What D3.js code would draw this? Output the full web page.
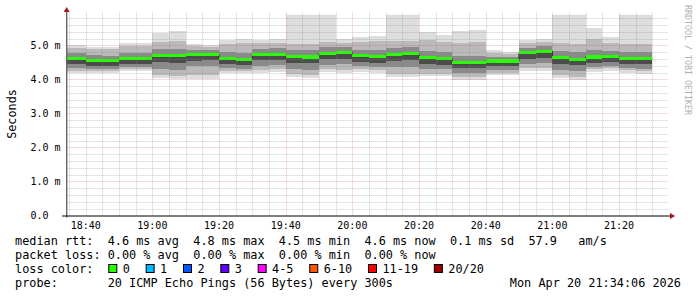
<!DOCTYPE html>
<html><head><meta charset="utf-8">
<script src="https://cdn.jsdelivr.net/npm/d3@7/dist/d3.min.js"></script>
<style>body{margin:0;background:#fff}svg{display:block}text{font-family:"DejaVu Sans Mono",monospace}</style>
</head><body><svg id="c" width="697" height="297"></svg>
<script>
// ---- data ----
const stepStarts = ["18:35","18:40","18:45","18:50","18:55","19:00","19:05","19:10","19:15","19:20","19:25","19:30","19:35","19:40","19:45","19:50","19:55","20:00","20:05","20:10","20:15","20:20","20:25","20:30","20:35","20:40","20:45","20:50","20:55","21:00","21:05","21:10","21:15","21:20","21:25"];
const median = [4.61,4.56,4.55,4.61,4.62,4.69,4.69,4.73,4.73,4.61,4.59,4.73,4.74,4.67,4.66,4.77,4.78,4.69,4.67,4.73,4.75,4.64,4.61,4.50,4.49,4.54,4.54,4.78,4.83,4.64,4.59,4.66,4.68,4.62,4.61];
const pingMax = [5.02,4.96,4.96,5.06,5.06,5.35,5.42,5.04,5.00,5.15,5.20,5.17,5.19,6.20,6.20,6.20,5.20,5.24,5.27,6.20,6.20,5.39,5.29,5.41,5.44,4.85,4.79,5.15,5.20,6.20,6.20,5.51,5.24,6.20,6.20];
const pingMin = [4.18,4.19,4.19,4.24,4.24,4.03,4.00,4.00,4.01,4.18,4.18,4.20,4.22,4.07,4.03,4.21,4.20,4.21,4.20,4.07,4.07,4.09,4.09,3.99,3.99,4.13,4.13,4.24,4.24,4.04,3.99,4.22,4.24,4.19,4.17];
const hi2 = [4.92,4.88,4.88,4.97,4.97,5.10,5.12,4.97,4.94,5.03,5.06,5.06,5.07,5.05,5.04,5.10,5.08,5.10,5.12,5.12,5.12,5.15,5.10,5.08,5.10,4.78,4.74,5.06,5.10,5.06,5.04,5.20,5.08,5.04,5.03];
const lo2 = [4.24,4.25,4.25,4.30,4.30,4.12,4.09,4.12,4.13,4.25,4.25,4.28,4.30,4.15,4.12,4.30,4.28,4.29,4.28,4.16,4.16,4.17,4.17,4.08,4.08,4.20,4.20,4.32,4.32,4.13,4.08,4.30,4.32,4.27,4.25];
const hi3 = [4.76,4.71,4.70,4.77,4.78,4.88,4.89,4.87,4.86,4.79,4.78,4.90,4.91,4.86,4.85,4.95,4.94,4.86,4.85,4.92,4.94,4.83,4.79,4.70,4.70,4.66,4.65,4.93,4.98,4.84,4.79,4.86,4.84,4.80,4.79];
const lo3 = [4.32,4.29,4.29,4.35,4.35,4.30,4.28,4.38,4.39,4.33,4.31,4.40,4.41,4.30,4.28,4.43,4.44,4.38,4.36,4.35,4.37,4.30,4.29,4.20,4.19,4.28,4.28,4.45,4.48,4.28,4.24,4.36,4.38,4.33,4.31];
const hi4 = [4.65,4.60,4.59,4.65,4.66,4.73,4.73,4.77,4.77,4.65,4.63,4.77,4.78,4.71,4.70,4.81,4.82,4.73,4.71,4.77,4.79,4.68,4.65,4.54,4.53,4.58,4.58,4.82,4.87,4.68,4.63,4.70,4.72,4.66,4.65];
const lo4 = [4.45,4.40,4.39,4.45,4.46,4.50,4.49,4.55,4.56,4.44,4.42,4.56,4.57,4.48,4.47,4.60,4.61,4.51,4.49,4.55,4.57,4.46,4.43,4.33,4.32,4.39,4.39,4.60,4.64,4.45,4.41,4.48,4.50,4.45,4.44];
const yTickLabels = ["0.0","1.0 m","2.0 m","3.0 m","4.0 m","5.0 m"];
const lossLabels = ["0","1","2","3","4-5","6-10","11-19","20/20"];
const lossColors = ["#26ff00","#00b8ff","#0059ff","#5e00ff","#ff00ff","#ff5500","#ff0000","#a00000"];
const legendLines = [
  "median rtt:  4.6 ms avg  4.8 ms max  4.5 ms min  4.6 ms now  0.1 ms sd  57.9   am/s",
  "packet loss: 0.00 % avg  0.00 % max  0.00 % min  0.00 % now",
  "loss color:",
  "probe:       20 ICMP Echo Pings (56 Bytes) every 300s"
];
const stampText = "Mon Apr 20 21:34:06 2026";
const yTitle = "Seconds";
const watermark = "RRDTOOL / TOBI OETIKER";

// ---- layout ----
const L = 66.7, R = 666.7, T = 14.7, B = 215.5;
const svg = d3.select("#c");
svg.append("rect").attr("width",697).attr("height",297).attr("fill","#fff");
const day = (h,m,s) => new Date(2026,3,20,h,m,s||0);
const parseHM = s => { const [h,m] = s.split(":").map(Number); return day(h,m); };
const tStart = day(18,34,18), tEnd = day(21,34,18);
const x = d3.scaleTime().domain([tStart,tEnd]).range([L,R]);
const y = d3.scaleLinear().domain([0,5.9]).range([B,T]);
const starts = stepStarts.map(parseHM);
const ends = starts.map(d => d3.timeMinute.offset(d,5));

svg.append("clipPath").attr("id","pc").append("rect")
  .attr("x",L).attr("y",T).attr("width",R-L).attr("height",B-T);
const plot = svg.append("g").attr("clip-path","url(#pc)");

const layers = [
  [pingMin,pingMax,"#dddddd"],
  [lo2,hi2,"#bababa"],
  [lo3,hi3,"#8a8a8a"],
  [lo4,hi4,"#4c4c4c"]
];
layers.forEach(([lo,hi,col]) => {
  plot.append("g").selectAll("rect").data(median).join("rect")
    .attr("shape-rendering","crispEdges")
    .attr("x",(d,i)=> i===0 ? L : x(starts[i]))
    .attr("width",(d,i)=> x(ends[i]) - (i===0 ? L : x(starts[i])))
    .attr("y",(d,i)=> y(hi[i]))
    .attr("height",(d,i)=> y(lo[i]) - y(hi[i]))
    .attr("fill",col);
});

// dark median step line
const pts = median.map((v,i)=>[i===0?L:x(starts[i]), y(v)]);
pts.push([x(ends[ends.length-1]), y(median[median.length-1])]);
plot.append("path").attr("d", d3.line().curve(d3.curveStepAfter)(pts))
  .attr("fill","none").attr("stroke","#202020").attr("stroke-width",1);

// green median bands (loss 0)
plot.append("g").selectAll("rect").data(median).join("rect")
  .attr("shape-rendering","crispEdges")
  .attr("x",(d,i)=> i===0 ? L : x(starts[i]))
  .attr("width",(d,i)=> x(ends[i]) - (i===0 ? L : x(starts[i])))
  .attr("y",d=> y(d)-1.6).attr("height",3.2)
  .attr("fill",lossColors[0]);

// grid
const grid = svg.append("g").attr("fill","none").attr("stroke-dasharray","1,1");
const minorY = y.ticks(30).filter(v => Math.abs(v - Math.round(v)) > 1e-6);
const majorY = y.ticks(6);
grid.selectAll(".hy").data(minorY).join("line")
  .attr("x1",L).attr("x2",668).attr("y1",d=>Math.round(y(d))+0.5).attr("y2",d=>Math.round(y(d))+0.5)
  .attr("stroke","rgba(140,140,140,0.45)");
const minorX = x.ticks(d3.timeMinute.every(5)).filter(d => d.getMinutes()%20 !== 0);
const majorX = x.ticks(d3.timeMinute.every(20));
grid.selectAll(".vx").data(minorX).join("line")
  .attr("y1",T-2).attr("y2",B).attr("x1",d=>Math.round(x(d))+0.5).attr("x2",d=>Math.round(x(d))+0.5)
  .attr("stroke","rgba(140,140,140,0.45)");
grid.selectAll(".hY").data(majorY.filter(v=>v>0)).join("line")
  .attr("x1",L).attr("x2",668).attr("y1",d=>Math.round(y(d))+0.5).attr("y2",d=>Math.round(y(d))+0.5)
  .attr("stroke","rgba(200,70,70,0.38)");
grid.selectAll(".vX").data(majorX).join("line")
  .attr("y1",T-2).attr("y2",B).attr("x1",d=>Math.round(x(d))+0.5).attr("x2",d=>Math.round(x(d))+0.5)
  .attr("stroke","rgba(200,70,70,0.38)");

// axes
svg.append("line").attr("x1",L).attr("x2",L).attr("y1",B+2).attr("y2",11)
  .attr("stroke","#666").attr("stroke-width",1.4);
svg.append("line").attr("x1",62).attr("x2",671).attr("y1",B+0.5).attr("y2",B+0.5)
  .attr("stroke","#000").attr("stroke-width",1);
svg.append("path").attr("d",`M${L-3},${12}L${L+3},${12}L${L},${7}Z`).attr("fill","#a01818");
svg.append("path").attr("d",`M670,${B-2.5}L670,${B+3.5}L675,${B+0.5}Z`).attr("fill","#a01818");

// tick labels
svg.append("g").selectAll("text").data(majorY).join("text")
  .attr("x",30.5).attr("y",d=>y(d)+3.6).attr("font-size","10px").attr("fill","#000")
  .style("white-space","pre").text((d,i)=>yTickLabels[i]);
svg.append("g").selectAll("text").data(majorX).join("text")
  .attr("x",d=>x(d)).attr("y",229).attr("text-anchor","middle").attr("font-size","10px")
  .attr("fill","#000").text(d3.timeFormat("%H:%M"));

// y title
svg.append("text").attr("transform","translate(15.5,114) rotate(-90)")
  .attr("text-anchor","middle").attr("font-size","11.8px").attr("fill","#000").text(yTitle);

// watermark
svg.append("text").attr("transform","translate(684.5,5) rotate(90)")
  .attr("font-size","8.3px").attr("fill","#b0b0b0").text(watermark);

// legend
const baseY = [245,259,273,287];
legendLines.forEach((s,i)=>{
  svg.append("text").attr("x",15).attr("y",baseY[i]).attr("font-size","11.85px")
    .attr("fill","#000").style("white-space","pre").text(s);
});
let bx = 108.3;
lossLabels.forEach((lab,i)=>{
  svg.append("rect").attr("x",bx+0.5).attr("y",264.5).attr("width",8).attr("height",8)
    .attr("fill",lossColors[i]).attr("stroke","#000").attr("stroke-width",1);
  const t = svg.append("text").attr("x",bx+14.4).attr("y",baseY[2]).attr("font-size","11.85px")
    .attr("fill","#000").text(lab);
  bx = bx + 14.4 + t.node().getComputedTextLength() + 15.8;
});
svg.append("text").attr("x",681).attr("y",baseY[3]).attr("text-anchor","end")
  .attr("font-size","11.85px").attr("fill","#000").text(stampText);
</script></body></html>
